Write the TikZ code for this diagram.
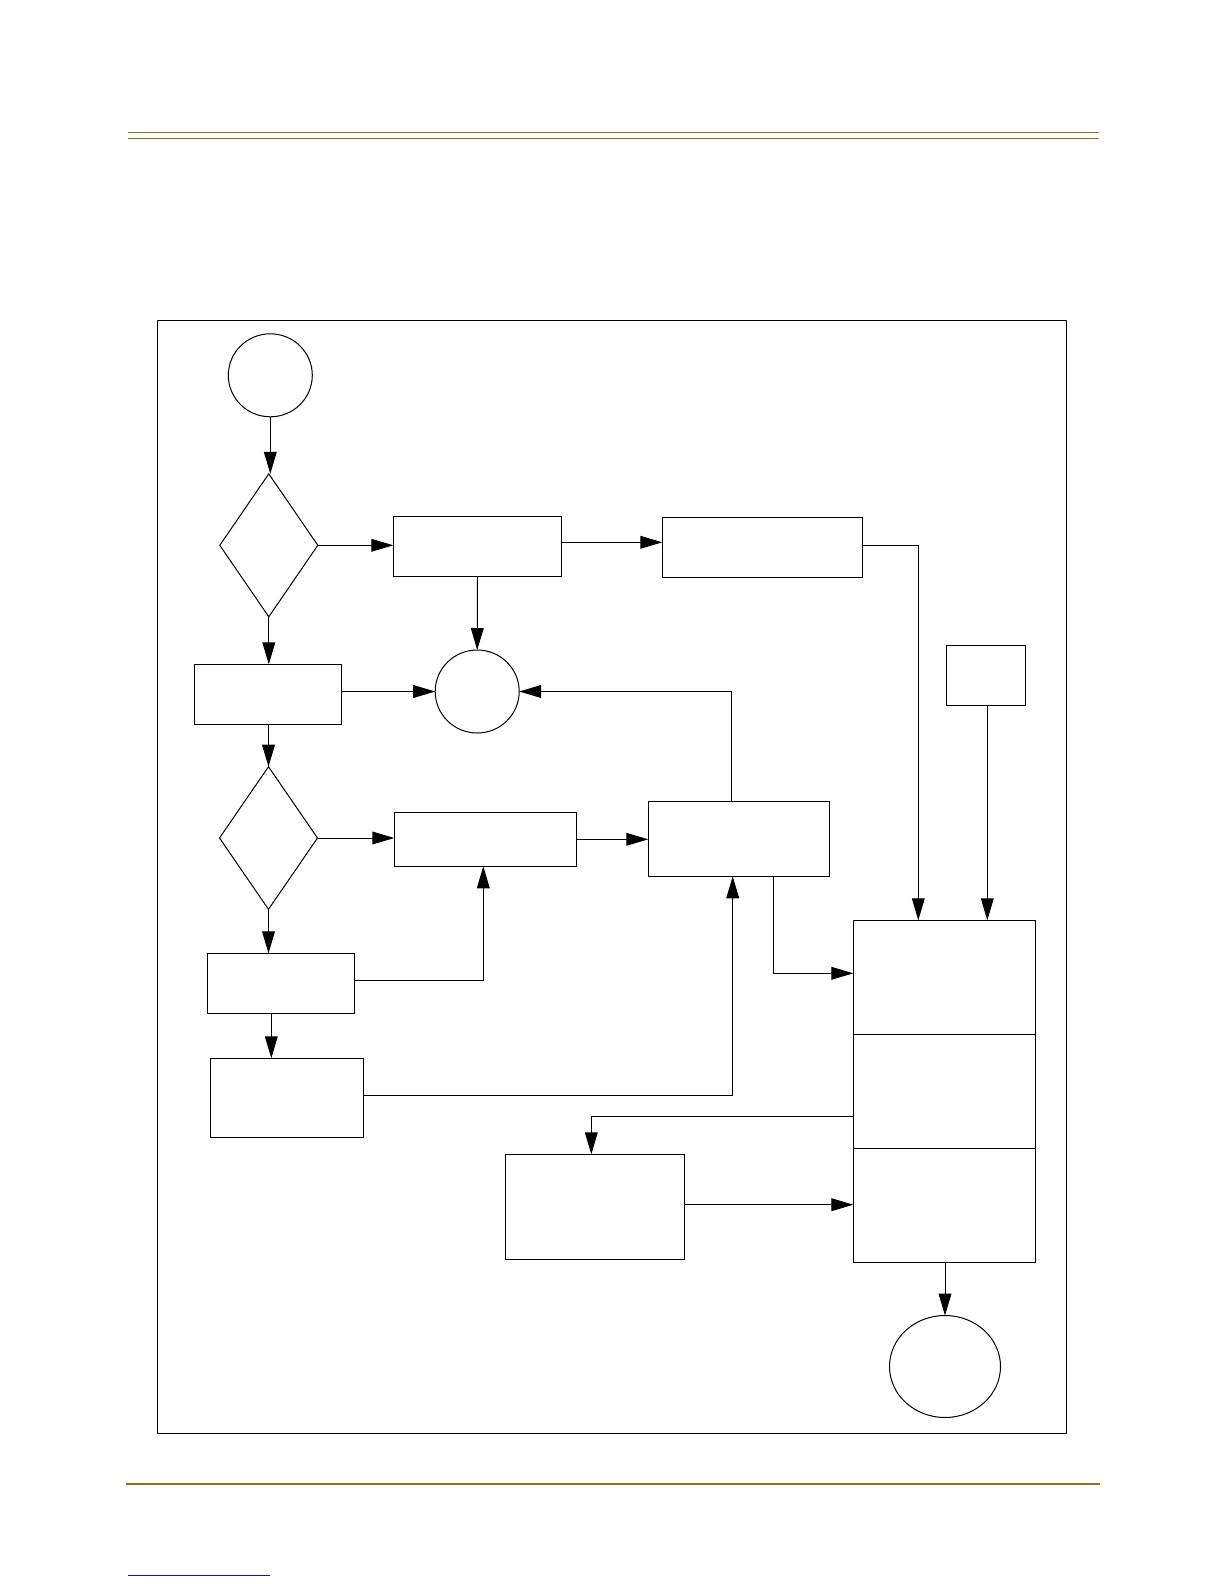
\documentclass[tikz,border=0pt]{standalone}
\usetikzlibrary{shapes.geometric,arrows.meta,calc}
\definecolor{rulebrown}{RGB}{158,106,28}
\definecolor{linkblue}{RGB}{20,20,170}
\tikzset{
  boxst/.style={draw=black,line width=0.65pt,rectangle,inner sep=0pt,outer sep=0pt},
  framest/.style={draw=black,line width=0.8pt,rectangle,inner sep=0pt,outer sep=0pt},
  circst/.style={draw=black,line width=0.5pt,ellipse,inner sep=0pt,outer sep=0pt},
  diast/.style={draw=black,line width=0.5pt,diamond,inner sep=0pt,outer sep=0pt},
  arr/.style={draw=black,line width=0.5pt,-{Triangle[length=11pt,width=6.4pt]}},
  rulest/.style={draw=rulebrown,line width=0.75pt}
}
\newcommand{\rbox}[6][boxst]{\node[#1, minimum width={(#5-#3)*0.5pt}, minimum height={(#6-#4)*0.5pt}] (#2) at ({(#3+#5)/2},{(#4+#6)/2}) {};}
\begin{document}
\begin{tikzpicture}[x=0.5pt,y=-0.5pt]
\useasboundingbox (0,0) rectangle (1224,1584);
% page rules
\draw[rulest] (128,132.3) -- (1099,132.3);
\draw[rulest] (128,138.4) -- (1099,138.4);
\draw[rulest,line width=0.9pt] (126,1484.3) -- (1100,1484.3);
\draw[draw=linkblue,line width=0.8pt] (128,1575.3) -- (270,1575.3);
% frame
\rbox[framest]{frame}{157.3}{320.3}{1066.5}{1433.3}
% nodes
\node[circst, minimum width=42pt, minimum height=41.5pt] (start) at (270.3,375.3) {};
\node[diast, minimum width=49pt, minimum height=71.5pt] (d1) at (268.8,545.3) {};
\rbox{bA}{393.3}{516.3}{561.7}{576.7}
\rbox{bC}{662.3}{517.3}{862.7}{577.3}
\node[circst, minimum width=42pt, minimum height=41.5pt] (sc) at (477.2,691.5) {};
\rbox{bB}{194.3}{664.3}{341.7}{724.3}
\node[diast, minimum width=49pt, minimum height=71.3pt] (d2) at (268.5,838) {};
\rbox{bF}{394.3}{812.3}{576.5}{866.3}
\rbox{bE}{648.3}{801.3}{829.3}{876.3}
\rbox{bD}{946.3}{645.3}{1025.7}{705.3}
\rbox{bG}{207.3}{953.3}{354.3}{1013.3}
\rbox{bH}{210.3}{1058.3}{363.7}{1137.3}
\rbox{big1}{853.3}{920.3}{1035.3}{1034.3}
\rbox{big2}{853.3}{1034.3}{1035.3}{1148.3}
\rbox{big3}{853.3}{1148.3}{1035.3}{1262.3}
\rbox{bI}{505.3}{1154.3}{684.3}{1259.3}
\node[circst, minimum width=55.5pt, minimum height=51pt] (end) at (945,1366.5) {};
% connectors
\draw[arr] (start.south) -- (start.south |- d1.north);
\draw[arr] (d1.east) -- (bA.west |- d1.east);
\draw[arr] (bA.east |- 0,542.3) -- (bC.west |- 0,542.3);
\draw[arr] (bA.south) -- (sc.north);
\draw[arr] (d1.south) -- (bB.north -| d1.south);
\draw[arr] (bB.east |- sc.west) -- (sc.west);
\draw[arr] (bE.north -| 731.3,0) |- (sc.east);
\draw[arr] (bB.south -| d2.north) -- (d2.north);
\draw[arr] (d2.east) -- (bF.west |- d2.east);
\draw[arr] (bF.east |- 0,839.3) -- (bE.west |- 0,839.3);
\draw[arr] (d2.south) -- (bG.north -| d2.south);
\draw[arr] (bG.east |- 0,980.3) -| (bF.south -| 483.3,0);
\draw[arr] (bG.south -| 271.3,0) -- (bH.north -| 271.3,0);
\draw[arr] (bH.east |- 0,1095.3) -| (bE.south -| 732.7,0);
\draw[arr] (bE.south -| 773.3,0) |- (big1.west |- 0,973.3);
\draw[arr] (bC.east |- 0,545) -| (big1.north -| 918.3,0);
\draw[arr] (bD.south -| 987.3,0) -- (big1.north -| 987.3,0);
\draw[arr] (big2.west |- 0,1116.3) -| (bI.north -| 591.3,0);
\draw[arr] (bI.east |- 0,1204.7) -- (big3.west |- 0,1204.7);
\draw[arr] (big3.south -| end.north) -- (end.north);
\end{tikzpicture}
\end{document}
